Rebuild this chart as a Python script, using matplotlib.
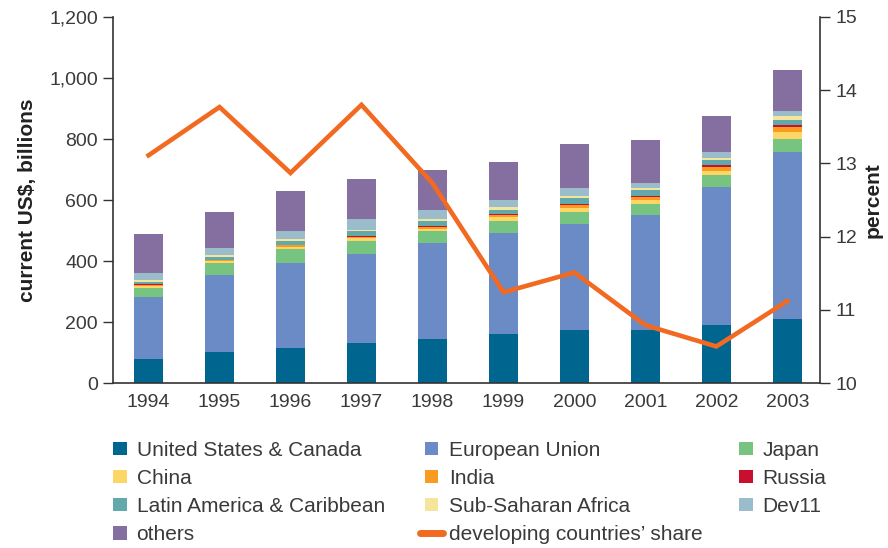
import numpy as np
import matplotlib
matplotlib.use('Agg')
import matplotlib.pyplot as plt
from matplotlib.patches import Patch, Rectangle
from matplotlib.lines import Line2D
from matplotlib.legend_handler import HandlerPatch
from matplotlib.ticker import FuncFormatter

plt.rcParams['font.family'] = ['Liberation Sans', 'DejaVu Sans']

years = ['1994', '1995', '1996', '1997', '1998', '1999', '2000', '2001', '2002', '2003']

# exports by region, current US$ billions (stacked bottom -> top)
us_canada  = [79, 102, 115, 131, 144, 161, 174, 174, 190, 210]
eu         = [203, 252, 278, 293, 315, 331, 347, 377, 453, 547]
japan      = [29, 39, 46, 42, 39, 39, 40, 36, 39, 43]
china      = [8, 7, 8, 10, 8, 12, 13, 13, 13, 23]
india      = [3, 3, 4, 4, 6, 8, 10, 10, 13, 16]
russia     = [2, 2, 3, 3, 4, 3, 3, 4, 7, 7]
latam      = [8, 8, 13, 15, 15, 14, 20, 19, 16, 16]
ssa        = [7, 8, 6, 4, 7, 9, 6, 6, 7, 13]
dev11      = [23, 23, 26, 36, 29, 23, 26, 17, 19, 17]
others     = [128, 116, 130, 131, 131, 125, 145, 141, 118, 134]

# developing countries' share, percent
dev_share = [13.11, 13.77, 12.87, 13.80, 12.73, 11.24, 11.51, 10.79, 10.50, 11.12]

series = [
    ('United States & Canada', us_canada, '#006690'),
    ('European Union', eu, '#6B8BC6'),
    ('Japan', japan, '#76C47F'),
    ('China', china, '#FDD668'),
    ('India', india, '#F89B1F'),
    ('Russia', russia, '#C8102E'),
    ('Latin America & Caribbean', latam, '#62A9AD'),
    ('Sub-Saharan Africa', ssa, '#F4E59A'),
    ('Dev11', dev11, '#9BBDCB'),
    ('others', others, '#846FA0'),
]
line_color = '#F26A21'
text_color = '#3A3A3A'
axis_color = '#333333'

fig = plt.figure(figsize=(8.88, 5.48), dpi=100)
ax = fig.add_axes([0.1273, 0.301, 0.7961, 0.668])
x = np.arange(len(years))

bottom = np.zeros(len(years))
for name, vals, col in series:
    ax.bar(x, vals, width=0.41, bottom=bottom, color=col, linewidth=0)
    bottom += np.array(vals)

ax.set_xlim(-0.5, 9.46)
ax.set_ylim(0, 1200)
ax.set_yticks(np.arange(0, 1201, 200))
ax.yaxis.set_major_formatter(FuncFormatter(lambda v, p: f'{int(v):,}'))
ax.set_xticks(x)
ax.set_xticklabels(years)
ax.tick_params(axis='x', length=0, pad=8, labelsize=14, labelcolor=text_color)
ax.tick_params(axis='y', length=7, width=1, color=axis_color, pad=4, labelsize=14,
               labelcolor=text_color)
for s in ['top', 'right']:
    ax.spines[s].set_visible(False)
for s in ['left', 'bottom']:
    ax.spines[s].set_color(axis_color)
    ax.spines[s].set_linewidth(1.2)
ax.set_ylabel('current US$, billions', fontsize=15, fontweight='bold', color='#222222',
              labelpad=9)

ax2 = ax.twinx()
ax2.plot(x, dev_share, color=line_color, linewidth=3.3, solid_joinstyle='miter')
ax2.set_ylim(10, 15)
ax2.set_yticks(np.arange(10, 16, 1))
ax2.tick_params(axis='y', length=7, width=1, color=axis_color, pad=4, labelsize=14,
                labelcolor=text_color)
for s in ['top', 'left', 'bottom']:
    ax2.spines[s].set_visible(False)
ax2.spines['right'].set_color(axis_color)
ax2.spines['right'].set_linewidth(1.2)
# right axis title, kept just inside the right edge
fig.text(0.983, 0.635, 'percent', fontsize=15, fontweight='bold', color='#222222',
         rotation=90, ha='center', va='center')


def square_patch(legend, orig_handle, xdescent, ydescent, width, height, fontsize):
    s = height
    return Rectangle((-xdescent + (width - s) / 2, -ydescent), s, s)


# legend in three separate columns
handles = {name: Patch(facecolor=col, edgecolor='none') for name, vals, col in series}
share_label = 'developing countries’ share'
handles[share_label] = Line2D([0], [0], color=line_color, linewidth=5, solid_capstyle='round')
columns = [
    (['United States & Canada', 'China', 'Latin America & Caribbean', 'others'], 0.1273, 0.68, 0.45),
    (['European Union', 'India', 'Sub-Saharan Africa', share_label], 0.473, 1.1, 0.3),
    (['Japan', 'Russia', 'Dev11'], 0.832, 0.68, 0.45),
]
for names, xpos, hlen, hpad in columns:
    leg = fig.legend([handles[n] for n in names], names, loc='upper left',
                     bbox_to_anchor=(xpos, 0.196), frameon=False, fontsize=15,
                     handlelength=hlen, handleheight=0.62, handletextpad=hpad,
                     labelspacing=0.44, borderaxespad=0, borderpad=0,
                     handler_map={Patch: HandlerPatch(patch_func=square_patch)})
    for t in leg.get_texts():
        t.set_color(text_color)

fig.savefig('out.png', dpi=100)
